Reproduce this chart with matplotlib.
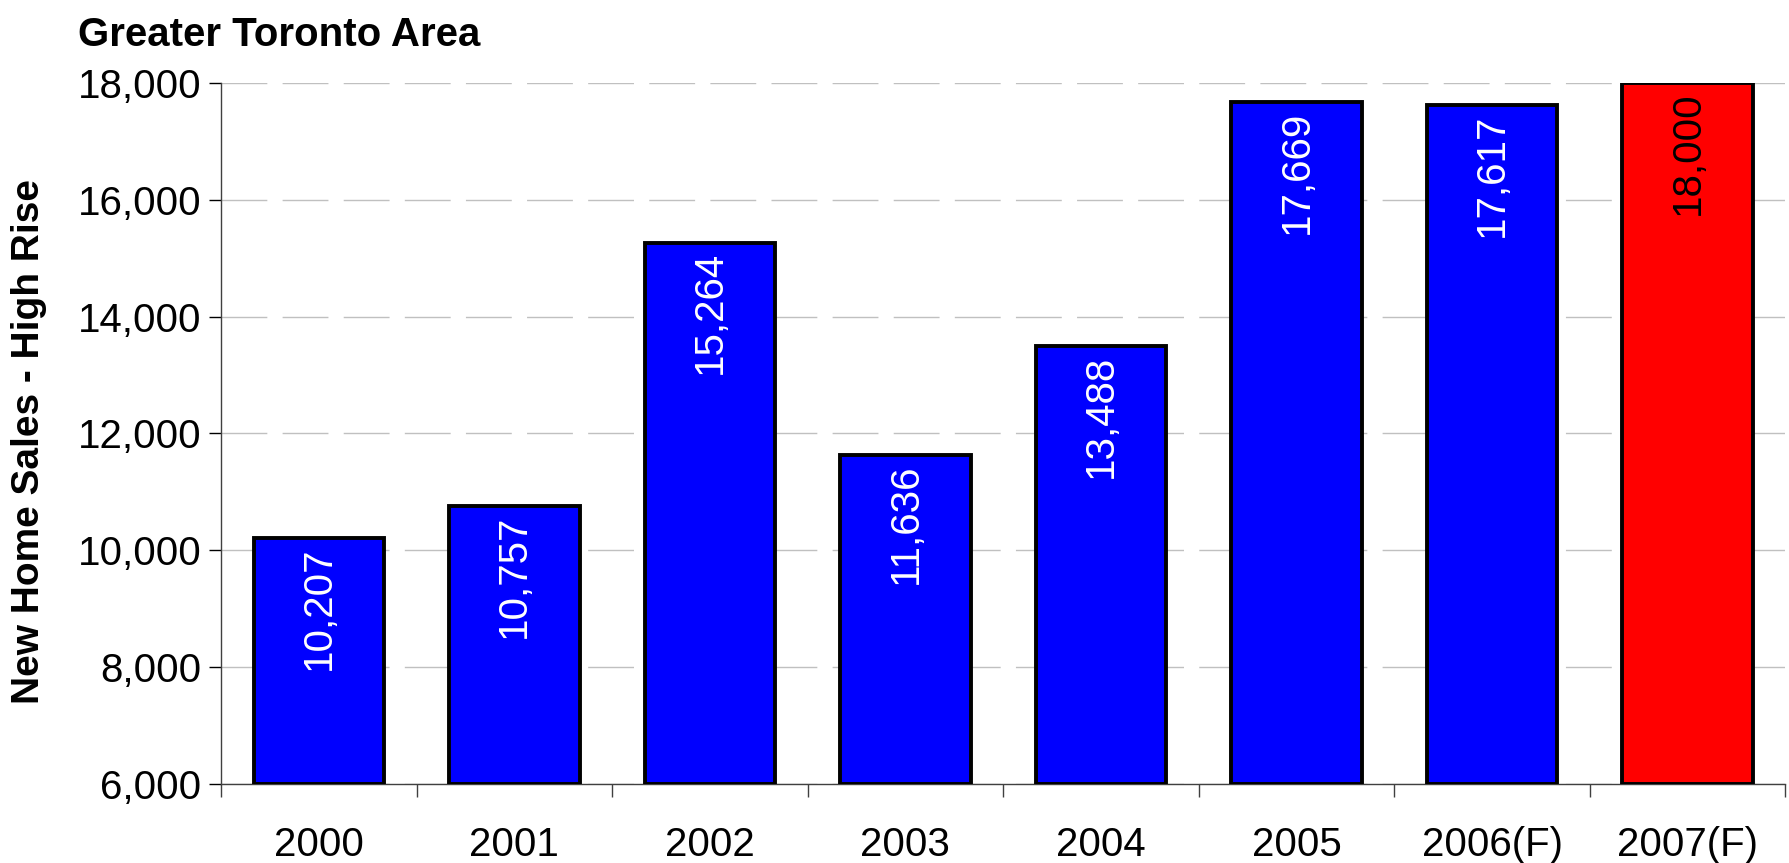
import matplotlib
matplotlib.use('Agg')
import matplotlib.pyplot as plt
from matplotlib.ticker import FuncFormatter, MultipleLocator, FixedLocator

plt.rcParams['font.family'] = ['Liberation Sans', 'DejaVu Sans']
plt.rcParams['lines.scale_dashes'] = False

# Ventes de logements neufs - tours d'habitation
years = ['2000', '2001', '2002', '2003', '2004', '2005', '2006(F)', '2007(F)']
sales = [10207, 10757, 15264, 11636, 13488, 17669, 17617, 18000]
bar_colors = ['#0000ff'] * 7 + ['#ff0000']
label_colors = ['white'] * 7 + ['black']

fig = plt.figure(figsize=(17.89, 8.63), dpi=100, facecolor='white')
ax = fig.add_axes([0.1235, 0.0915, 0.8745, 0.8125])

x = list(range(len(years)))
ax.bar(x, [s - 6000 for s in sales], bottom=6000, width=0.667,
       color=bar_colors, edgecolor='black', linewidth=2.8, zorder=3)

# Valeurs dans les barres
for xi, s, c in zip(x, sales, label_colors):
    ax.annotate(f'{s:,}', xy=(xi, s), xytext=(0, -6), textcoords='offset points',
                rotation=90, ha='center', va='top', color=c, fontsize=29, zorder=4)

ax.set_xlim(-0.5, len(years) - 0.5)
ax.set_ylim(6000, 18000)
ax.yaxis.set_major_locator(MultipleLocator(2000))
ax.yaxis.set_major_formatter(FuncFormatter(lambda v, p: f'{int(v):,}'))

ax.set_xticks(x)
ax.set_xticklabels(years, fontsize=29)
ax.xaxis.set_minor_locator(FixedLocator([i + 0.5 for i in range(-1, len(years))]))
ax.tick_params(axis='x', which='major', length=0, pad=30)
ax.tick_params(axis='x', which='minor', length=9, width=1, direction='out', color='#404040')
ax.tick_params(axis='y', labelsize=29, length=9, width=1, direction='out', pad=5)

ax.grid(True, axis='y', color='#c0c0c0', linestyle=(0, (33, 11)), linewidth=1, zorder=0)
for side in ['top', 'right']:
    ax.spines[side].set_visible(False)
for side in ['left', 'bottom']:
    ax.spines[side].set_color('#404040')
    ax.spines[side].set_linewidth(1)

ax.set_ylabel('New Home Sales - High Rise', fontsize=28, fontweight='bold')
ax.yaxis.set_label_coords(-0.111, 0.488)
fig.text(0.0436, 0.982, 'Greater Toronto Area', fontsize=29, fontweight='bold',
         ha='left', va='top')

plt.savefig('out.png', dpi=100, facecolor='white')
plt.close(fig)
